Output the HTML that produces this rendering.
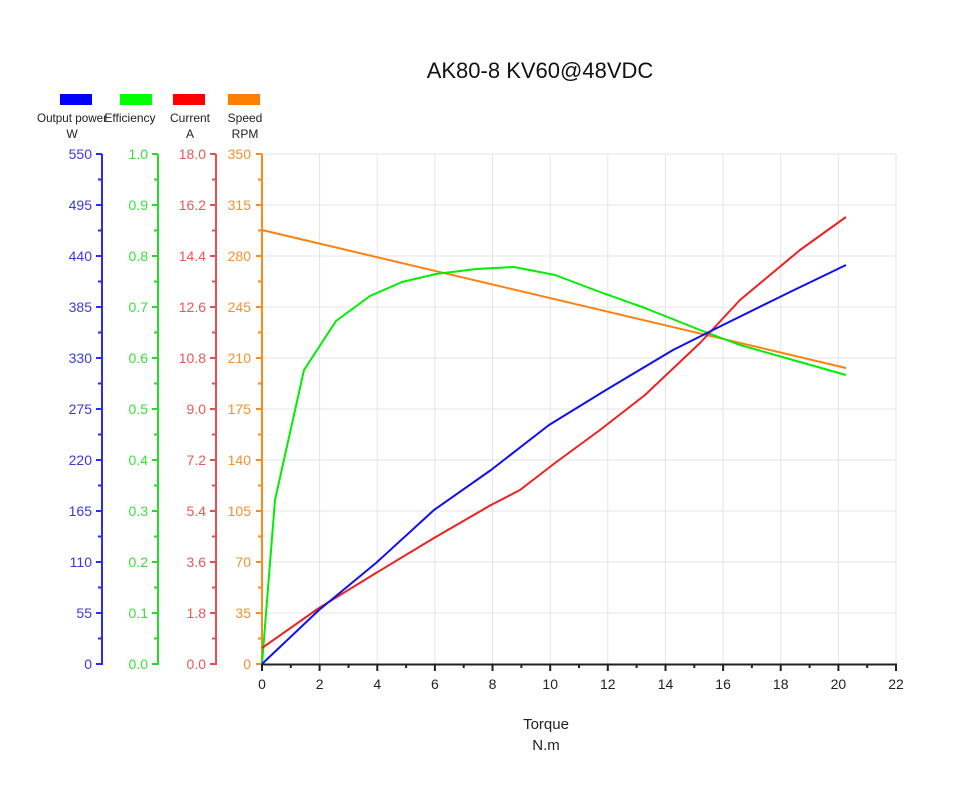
<!DOCTYPE html><html><head><meta charset="utf-8"><style>body{margin:0;background:#fff}svg{display:block;font-family:"Liberation Sans",sans-serif}</style></head><body>
<svg width="957" height="809" viewBox="0 0 957 809">
<text x="540" y="78" font-size="22" text-anchor="middle" fill="#111">AK80-8 KV60@48VDC</text>
<g stroke="#e4e4e4" stroke-width="1">
<line x1="262" y1="154" x2="896" y2="154"/><line x1="262" y1="205" x2="896" y2="205"/><line x1="262" y1="256" x2="896" y2="256"/><line x1="262" y1="307" x2="896" y2="307"/><line x1="262" y1="358" x2="896" y2="358"/><line x1="262" y1="409" x2="896" y2="409"/><line x1="262" y1="460" x2="896" y2="460"/><line x1="262" y1="511" x2="896" y2="511"/><line x1="262" y1="562" x2="896" y2="562"/><line x1="262" y1="613" x2="896" y2="613"/>
<line x1="319.6" y1="154" x2="319.6" y2="664"/><line x1="377.3" y1="154" x2="377.3" y2="664"/><line x1="434.9" y1="154" x2="434.9" y2="664"/><line x1="492.5" y1="154" x2="492.5" y2="664"/><line x1="550.2" y1="154" x2="550.2" y2="664"/><line x1="607.8" y1="154" x2="607.8" y2="664"/><line x1="665.5" y1="154" x2="665.5" y2="664"/><line x1="723.1" y1="154" x2="723.1" y2="664"/><line x1="780.7" y1="154" x2="780.7" y2="664"/><line x1="838.4" y1="154" x2="838.4" y2="664"/><line x1="896" y1="154" x2="896" y2="664"/>
</g>
<rect x="60" y="94" width="32" height="11" fill="#0000ff"/><rect x="120" y="94" width="32" height="11" fill="#00ff00"/><rect x="173" y="94" width="32" height="11" fill="#ff0000"/><rect x="228" y="94" width="32" height="11" fill="#ff8000"/>
<g font-size="12" fill="#222" text-anchor="middle">
<text x="72" y="122" textLength="70" lengthAdjust="spacingAndGlyphs">Output power</text><text x="72" y="138">W</text>
<text x="130" y="122">Efficiency</text>
<text x="190" y="122">Current</text><text x="190" y="138">A</text>
<text x="245" y="122">Speed</text><text x="245" y="138">RPM</text>
</g>
<g font-size="14" text-anchor="end">
<g stroke="#2a2aff" stroke-width="2"><line x1="102" y1="154" x2="102" y2="665"/></g>
<g fill="#3a3ae0">
<text x="92" y="159">550</text><text x="92" y="210">495</text><text x="92" y="261">440</text><text x="92" y="312">385</text><text x="92" y="363">330</text><text x="92" y="414">275</text><text x="92" y="465">220</text><text x="92" y="516">165</text><text x="92" y="567">110</text><text x="92" y="618">55</text><text x="92" y="669">0</text></g>
<g stroke="#2ada2a" stroke-width="2"><line x1="158" y1="154" x2="158" y2="665"/></g>
<g fill="#3ce03c">
<text x="148" y="159">1.0</text><text x="148" y="210">0.9</text><text x="148" y="261">0.8</text><text x="148" y="312">0.7</text><text x="148" y="363">0.6</text><text x="148" y="414">0.5</text><text x="148" y="465">0.4</text><text x="148" y="516">0.3</text><text x="148" y="567">0.2</text><text x="148" y="618">0.1</text><text x="148" y="669">0.0</text></g>
<g stroke="#e85050" stroke-width="2"><line x1="216" y1="154" x2="216" y2="665"/></g>
<g fill="#e85858">
<text x="206" y="159">18.0</text><text x="206" y="210">16.2</text><text x="206" y="261">14.4</text><text x="206" y="312">12.6</text><text x="206" y="363">10.8</text><text x="206" y="414">9.0</text><text x="206" y="465">7.2</text><text x="206" y="516">5.4</text><text x="206" y="567">3.6</text><text x="206" y="618">1.8</text><text x="206" y="669">0.0</text></g>
<g stroke="#ff8a1a" stroke-width="2"><line x1="262" y1="154" x2="262" y2="665"/></g>
<g fill="#f59030">
<text x="251" y="159">350</text><text x="251" y="210">315</text><text x="251" y="261">280</text><text x="251" y="312">245</text><text x="251" y="363">210</text><text x="251" y="414">175</text><text x="251" y="465">140</text><text x="251" y="516">105</text><text x="251" y="567">70</text><text x="251" y="618">35</text><text x="251" y="669">0</text></g>
</g>
<g stroke-width="2">
<path stroke="#2a2aff" d="M96 154h6M96 205h6M96 256h6M96 307h6M96 358h6M96 409h6M96 460h6M96 511h6M96 562h6M96 613h6M96 664h6M98 179.5h4M98 230.5h4M98 281.5h4M98 332.5h4M98 383.5h4M98 434.5h4M98 485.5h4M98 536.5h4M98 587.5h4M98 638.5h4"/>
<path stroke="#2ada2a" d="M152 154h6M152 205h6M152 256h6M152 307h6M152 358h6M152 409h6M152 460h6M152 511h6M152 562h6M152 613h6M152 664h6M154 179.5h4M154 230.5h4M154 281.5h4M154 332.5h4M154 383.5h4M154 434.5h4M154 485.5h4M154 536.5h4M154 587.5h4M154 638.5h4"/>
<path stroke="#e85050" d="M210 154h6M210 205h6M210 256h6M210 307h6M210 358h6M210 409h6M210 460h6M210 511h6M210 562h6M210 613h6M210 664h6M212 179.5h4M212 230.5h4M212 281.5h4M212 332.5h4M212 383.5h4M212 434.5h4M212 485.5h4M212 536.5h4M212 587.5h4M212 638.5h4"/>
<path stroke="#ff8a1a" d="M256 154h6M256 205h6M256 256h6M256 307h6M256 358h6M256 409h6M256 460h6M256 511h6M256 562h6M256 613h6M256 664h6M258 179.5h4M258 230.5h4M258 281.5h4M258 332.5h4M258 383.5h4M258 434.5h4M258 485.5h4M258 536.5h4M258 587.5h4M258 638.5h4"/>
</g>
<line x1="261" y1="664.5" x2="897" y2="664.5" stroke="#222" stroke-width="2"/>
<path stroke="#222" stroke-width="2" d="M262 664v7M319.6 664v7M377.3 664v7M434.9 664v7M492.5 664v7M550.2 664v7M607.8 664v7M665.5 664v7M723.1 664v7M780.7 664v7M838.4 664v7M896 664v7M290.8 664v4M348.5 664v4M406.1 664v4M463.7 664v4M521.4 664v4M579 664v4M636.6 664v4M694.3 664v4M751.9 664v4M809.6 664v4M867.2 664v4"/>
<g font-size="14" fill="#222" text-anchor="middle">
<text x="262" y="689">0</text><text x="319.6" y="689">2</text><text x="377.3" y="689">4</text><text x="434.9" y="689">6</text><text x="492.5" y="689">8</text><text x="550.2" y="689">10</text><text x="607.8" y="689">12</text><text x="665.5" y="689">14</text><text x="723.1" y="689">16</text><text x="780.7" y="689">18</text><text x="838.4" y="689">20</text><text x="896" y="689">22</text>
<text x="546" y="729" font-size="15">Torque</text><text x="546" y="750" font-size="15">N.m</text>
</g>
<g fill="none" stroke-width="2" stroke-linejoin="round">
<polyline stroke="#ff8010" points="262,230 846,368"/>
<polyline stroke="#00ee00" points="262,664 275,500 304,370 336,321 370,296 402,282 436,274 476,269 514,267 555,275 600,292 645,308 700,330 740,345 800,362 846,375"/>
<polyline stroke="#ee2020" points="262,648 319,608 376,573 434,538 491,505 520,490 555,463 600,430 645,395 700,343 740,300 800,250 846,217"/>
<polyline stroke="#1010ee" points="262,664 319,610 376,563 434,510 491,470 549,425 606,390 673,350 723,325 790,292 846,265"/>
</g>
</svg>
</body></html>
